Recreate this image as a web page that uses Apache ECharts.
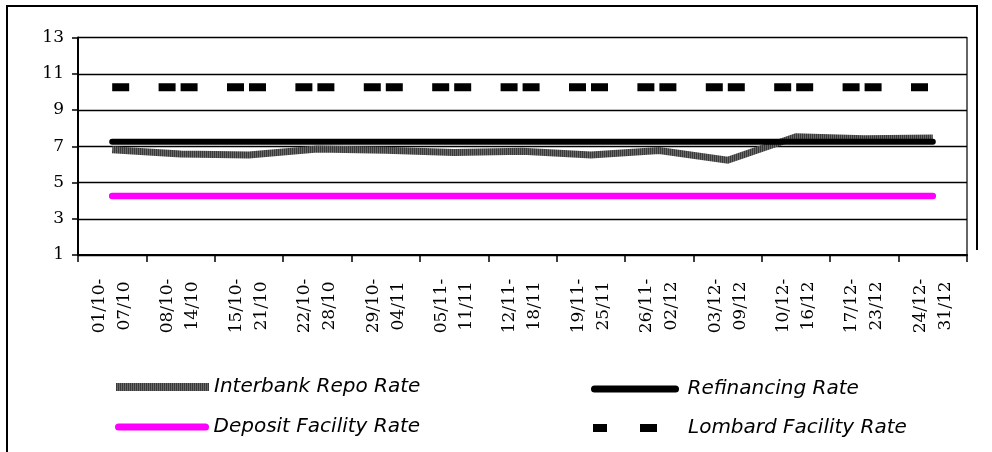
<!DOCTYPE html>
<html>
<head>
<meta charset="utf-8">
<title>Interest Rates</title>
<script src="https://cdn.jsdelivr.net/npm/echarts@6/dist/echarts.min.js"></script>
<style>
  html, body { margin: 0; padding: 0; background: #fff; }
  #chart { width: 992px; height: 452px; }
</style>
</head>
<body>
<div id="chart"></div>
<script>
// Weekly periods
const weeks = [
  '01/10-\n07/10', '08/10-\n14/10', '15/10-\n21/10', '22/10-\n28/10',
  '29/10-\n04/11', '05/11-\n11/11', '12/11-\n18/11', '19/11-\n25/11',
  '26/11-\n02/12', '03/12-\n09/12', '10/12-\n16/12', '17/12-\n23/12',
  '24/12-\n31/12'
];

// Rates (%)
const interbankRepo = [6.81, 6.57, 6.52, 6.85, 6.78, 6.65, 6.72, 6.52, 6.76, 6.23, 7.53, 7.42, 7.46];
const refinancing   = [7.25, 7.25, 7.25, 7.25, 7.25, 7.25, 7.25, 7.25, 7.25, 7.25, 7.25, 7.25, 7.25];
const depositFacility = [4.25, 4.25, 4.25, 4.25, 4.25, 4.25, 4.25, 4.25, 4.25, 4.25, 4.25, 4.25, 4.25];
const lombardFacility = [10.25, 10.25, 10.25, 10.25, 10.25, 10.25, 10.25, 10.25, 10.25, 10.25, 10.25, 10.25, 10.25];

// Value axis ticks
const yTicks = [1, 3, 5, 7, 9, 11, 13];

// Striped grey stroke for the interbank repo line
const stripe = document.createElement('canvas');
stripe.width = 2; stripe.height = 1;
const sctx = stripe.getContext('2d');
sctx.fillStyle = '#3a3a3a'; sctx.fillRect(0, 0, 1, 1);
sctx.fillStyle = '#6a6a6a'; sctx.fillRect(1, 0, 1, 1);
const repoStroke = { image: stripe, repeat: 'repeat' };

const legendFont = { fontFamily: 'DejaVu Sans', fontStyle: 'italic', fontSize: 20, color: '#000' };
const noMarker = { opacity: 0 };

const chart = echarts.init(document.getElementById('chart'), null, { renderer: 'canvas' });

chart.setOption({
  animation: false,
  backgroundColor: '#fff',
  grid: {
    left: 78, top: 37.5, right: 25, bottom: 197,
    show: true, borderColor: '#000', borderWidth: 1.2, backgroundColor: 'transparent'
  },
  xAxis: {
    type: 'category',
    data: weeks,
    boundaryGap: true,
    axisLine: { show: true, lineStyle: { color: '#000', width: 2 } },
    axisTick: { show: true, length: 7, lineStyle: { color: '#000', width: 1.5 } },
    splitLine: { show: false },
    axisLabel: {
      interval: 0,
      rotate: 90,
      align: 'center',
      verticalAlign: 'middle',
      margin: 51,
      fontFamily: 'DejaVu Serif',
      fontSize: 17,
      lineHeight: 25,
      color: '#000'
    }
  },
  yAxis: {
    type: 'value',
    min: yTicks[0],
    max: yTicks[yTicks.length - 1],
    interval: yTicks[1] - yTicks[0],
    axisLine: { show: true, lineStyle: { color: '#000', width: 2 } },
    axisTick: { show: true, length: 6, lineStyle: { color: '#000', width: 1.5 } },
    splitLine: { show: true, lineStyle: { color: '#000', width: 1.3 } },
    axisLabel: {
      margin: 14,
      fontFamily: 'DejaVu Serif',
      fontSize: 17,
      color: '#000'
    }
  },
  legend: [
    {
      left: 112, top: 377, itemWidth: 93, itemHeight: 14, padding: 0,
      textStyle: legendFont,
      data: [{ name: 'Interbank Repo Rate', itemStyle: noMarker, lineStyle: { width: 8, cap: 'butt', color: repoStroke } }]
    },
    {
      left: 115, top: 417, itemWidth: 87, itemHeight: 14, padding: 0,
      textStyle: Object.assign({ padding: [0, 0, 0, 3] }, legendFont),
      data: [{ name: 'Deposit Facility Rate', itemStyle: noMarker, lineStyle: { width: 7, cap: 'round' } }]
    },
    {
      left: 591, top: 379, itemWidth: 81, itemHeight: 14, padding: 0,
      textStyle: Object.assign({ padding: [0, 0, 0, 7] }, legendFont),
      data: [{ name: 'Refinancing Rate', itemStyle: noMarker, lineStyle: { width: 7, cap: 'round' } }]
    },
    {
      left: 589, top: 418, itemWidth: 64, itemHeight: 14, padding: 0,
      textStyle: Object.assign({ padding: [0, 0, 0, 26] }, legendFont),
      data: [{ name: 'Lombard Facility Rate', itemStyle: noMarker, lineStyle: { width: 8, cap: 'butt', type: [14, 33, 17, 100], dashOffset: 0 } }]
    }
  ],
  series: [
    {
      name: 'Interbank Repo Rate',
      type: 'line',
      data: interbankRepo,
      symbol: 'none',
      z: 3,
      lineStyle: { color: repoStroke, width: 7, cap: 'butt', join: 'miter' },
      itemStyle: { color: '#4d4d4d' }
    },
    {
      name: 'Refinancing Rate',
      type: 'line',
      data: refinancing,
      symbol: 'none',
      z: 4,
      lineStyle: { color: '#000', width: 6, cap: 'round' },
      itemStyle: { color: '#000' }
    },
    {
      name: 'Deposit Facility Rate',
      type: 'line',
      data: depositFacility,
      symbol: 'none',
      z: 3,
      lineStyle: { color: '#ff00ff', width: 6.5, cap: 'round' },
      itemStyle: { color: '#ff00ff' }
    },
    {
      name: 'Lombard Facility Rate',
      type: 'line',
      data: lombardFacility,
      symbol: 'none',
      z: 3,
      lineStyle: { color: '#000', width: 8, cap: 'butt', type: [17, 5, 17, 29.4], dashOffset: 22 },
      itemStyle: { color: '#000' }
    }
  ],
  graphic: [
    {
      type: 'polyline',
      silent: true,
      shape: { points: [[7, 452], [7, 6], [977, 6], [977, 250]] },
      style: { stroke: '#000', lineWidth: 2, fill: null }
    }
  ]
});
</script>
</body>
</html>
